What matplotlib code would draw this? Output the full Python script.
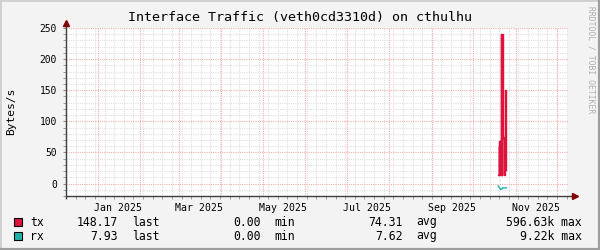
import matplotlib
matplotlib.use("Agg")
import matplotlib.pyplot as plt
import matplotlib.dates as mdates
from matplotlib.lines import Line2D
from matplotlib.patches import Rectangle
import numpy as np
import pandas as pd

# ---------------- data ----------------
title = "Interface Traffic (veth0cd3310d) on cthulhu"
ylabel = "Bytes/s"
x_start = "2024-12-09 00:00"
x_end = "2025-12-09 00:00"

tx_times = ["2025-10-19 06:00", "2025-10-19 12:00", "2025-10-19 18:00", "2025-10-20 00:00",
            "2025-10-20 06:00", "2025-10-20 12:00", "2025-10-20 18:00", "2025-10-21 00:00",
            "2025-10-21 06:00", "2025-10-21 12:00", "2025-10-21 18:00", "2025-10-22 00:00",
            "2025-10-22 06:00", "2025-10-22 12:00", "2025-10-22 18:00", "2025-10-23 00:00",
            "2025-10-23 06:00", "2025-10-23 12:00", "2025-10-23 18:00", "2025-10-24 00:00",
            "2025-10-24 06:00", "2025-10-24 12:00", "2025-10-24 18:00", "2025-10-25 00:00"]
tx_values = [13, 60, 13, 69, 15, 69, 14, 68,
             240, 13, 238, 14, 240, 75, 75, 74,
             75, 13, 13, 150, 150, 150, 150, 22]

rx_times = ["2025-10-19 06:00", "2025-10-20 06:00", "2025-10-21 06:00", "2025-10-21 18:00",
            "2025-10-22 12:00", "2025-10-23 12:00", "2025-10-24 12:00", "2025-10-25 06:00"]
rx_values = [-4, -7, -9.5, -9, -7, -7, -7, -7]

legend_names = ["tx", "rx"]
legend_last = ["148.17", "7.93"]
legend_min = ["0.00", "0.00"]
legend_avg = ["74.31", "7.62"]
legend_max = ["596.63k", "9.22k"]

y_ticks = [0, 50, 100, 150, 200, 250]
y_min, y_max = -20, 250

tx_color = "#DC143C"
rx_color = "#20B2AA"

# ---------------- figure ----------------
W, H = 600, 250
fig = plt.figure(figsize=(6, 2.5), dpi=100, facecolor="#F3F3F3")
mono = "DejaVu Sans Mono"

L, R, T, B = 66, 568, 28, 196
ax = fig.add_axes([L / W, 1 - B / H, (R - L) / W, (B - T) / H])
ax.set_facecolor("white")

xs = pd.to_datetime(x_start)
xe = pd.to_datetime(x_end)
ax.set_xlim(xs, xe)
ax.set_ylim(y_min, y_max)

# grids
minor_col = "#E0E0E0"
major_col = "#F2B0B0"
ax.yaxis.set_major_locator(matplotlib.ticker.FixedLocator(y_ticks))
ax.yaxis.set_minor_locator(matplotlib.ticker.MultipleLocator(10))
ax.grid(which="minor", axis="y", color=minor_col, linestyle=(0, (1, 1)), linewidth=0.8)
ax.grid(which="major", axis="y", color=major_col, linestyle=(0, (1, 1)), linewidth=0.8)

ax.xaxis.set_major_locator(mdates.MonthLocator(bymonth=[1, 3, 5, 7, 9, 11], bymonthday=16))
ax.xaxis.set_major_formatter(mdates.DateFormatter("%b %Y"))
ax.xaxis.set_minor_locator(mdates.WeekdayLocator(byweekday=mdates.MO))
ax.grid(which="minor", axis="x", color=minor_col, linestyle=(0, (1, 1)), linewidth=0.8)
month_starts = pd.date_range(xs, xe, freq="MS")
for m in month_starts:
    ax.axvline(m, color=major_col, linestyle=(0, (1, 1)), linewidth=0.8, zorder=0.6)
ax.set_axisbelow(True)

ax.tick_params(axis="x", which="major", length=0, pad=5, labelsize=7.1, labelcolor="black")
ax.tick_params(axis="x", which="minor", length=2, color="#909090", direction="out")
ax.tick_params(axis="y", which="major", length=2, color="#909090", pad=4.5, labelsize=6.9)
ax.tick_params(axis="y", which="minor", length=2, color="#909090")
for lab in ax.get_xticklabels() + ax.get_yticklabels():
    lab.set_family(mono)

for s in ["top", "right", "left", "bottom"]:
    ax.spines[s].set_visible(False)

# data
ax.plot(pd.to_datetime(tx_times), tx_values, color=tx_color, linewidth=1.0, drawstyle="steps-post", zorder=3)
ax.plot(pd.to_datetime(rx_times), rx_values, color=rx_color, linewidth=1.0, zorder=3)

# axes lines with arrows (pixel coordinates)
def px(x, y):
    return (x / W, 1 - y / H)

axis_col = "#404040"
arrow_col = "#800000"
fig.add_artist(Line2D([px(L, B)[0], px(574, B)[0]], [px(L, B)[1], px(574, B)[1]], color=axis_col, lw=1.0))
fig.add_artist(Line2D([px(L, B + 2)[0], px(L, 24)[0]], [px(L, B + 2)[1], px(L, 24)[1]], color=axis_col, lw=1.0))
fig.add_artist(Line2D([px(575, B)[0]], [px(575, B)[1]], marker=">", color=arrow_col, markersize=5, lw=0))
fig.add_artist(Line2D([px(L, 23)[0]], [px(L, 23)[1]], marker="^", color=arrow_col, markersize=5, lw=0))

# labels
fig.text(*px(300, 18), title, ha="center", va="center", family=mono, fontsize=9.6)
fig.text(*px(11, 111), ylabel, ha="center", va="center", rotation=90, family=mono, fontsize=8.1)
fig.text(*px(591, 60), "RRDTOOL / TOBI OETIKER", ha="center", va="center", rotation=270,
         family=mono, fontsize=5.8, color="#B0B0B0")

# legend
colors = [tx_color, rx_color]
rows_y = [222, 236]
for i in range(2):
    y = rows_y[i]
    fig.add_artist(Rectangle(px(14, y + 4), 8 / W, 8 / H, facecolor=colors[i], edgecolor="black", lw=0.8))
    fig.text(*px(30, y), legend_names[i], ha="left", va="center", family=mono, fontsize=8.3)
    fig.text(*px(118, y), legend_last[i], ha="right", va="center", family=mono, fontsize=8.3)
    fig.text(*px(132, y), "last", ha="left", va="center", family=mono, fontsize=8.3)
    fig.text(*px(261, y), legend_min[i], ha="right", va="center", family=mono, fontsize=8.3)
    fig.text(*px(274, y), "min", ha="left", va="center", family=mono, fontsize=8.3)
    fig.text(*px(403, y), legend_avg[i], ha="right", va="center", family=mono, fontsize=8.3)
    fig.text(*px(416, y), "avg", ha="left", va="center", family=mono, fontsize=8.3)
    fig.text(*px(582, y), legend_max[i] + " max", ha="right", va="center", family=mono, fontsize=8.3)

# frame (3D border)
fig.add_artist(Line2D([0, 0], [0, 1], transform=fig.transFigure, color="#CFCFCF", lw=2))
fig.add_artist(Line2D([0, 1], [1, 1], transform=fig.transFigure, color="#CFCFCF", lw=2))
fig.add_artist(Line2D([1, 1], [0, 1], transform=fig.transFigure, color="#9E9E9E", lw=3))
fig.add_artist(Line2D([0, 1], [0, 0], transform=fig.transFigure, color="#9E9E9E", lw=3))

fig.savefig("out.png", dpi=100, facecolor=fig.get_facecolor())
